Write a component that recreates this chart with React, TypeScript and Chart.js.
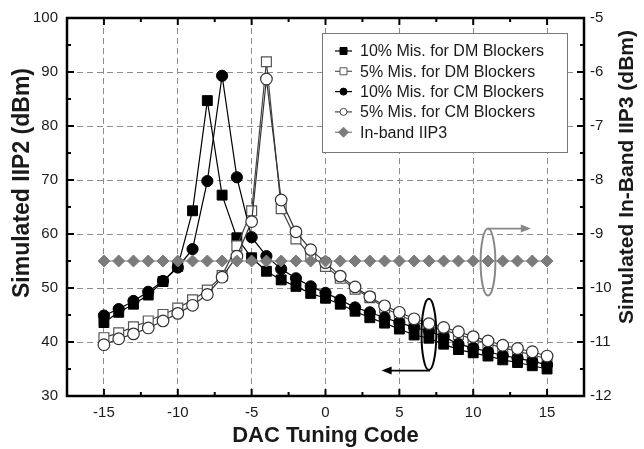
import { useEffect, useRef } from 'react';
import { Chart, registerables } from 'chart.js';

Chart.register(...registerables);

// DAC tuning codes on the x axis
const dacCodes = [-15, -14, -13, -12, -11, -10, -9, -8, -7, -6, -5, -4, -3, -2, -1, 0, 1, 2, 3, 4, 5, 6, 7, 8, 9, 10, 11, 12, 13, 14, 15];

// Simulated IIP2 (dBm), left axis
const iip2Dm10 = [43.6, 45.5, 47.0, 48.7, 51.2, 54.0, 64.3, 84.7, 67.2, 59.3, 55.6, 53.1, 51.5, 50.3, 49.0, 48.1, 47.0, 45.7, 44.5, 43.5, 42.4, 41.3, 40.7, 39.6, 38.6, 38.0, 37.4, 36.7, 36.2, 35.6, 35.0];
const iip2Dm5 = [40.8, 41.7, 42.8, 43.9, 45.1, 46.3, 47.8, 49.6, 52.3, 57.8, 64.3, 91.9, 64.7, 59.1, 56.0, 54.0, 51.8, 49.8, 48.2, 46.3, 45.0, 43.8, 42.9, 42.2, 41.4, 40.5, 39.7, 38.9, 38.3, 37.6, 36.9];
const iip2Cm10 = [44.9, 46.1, 47.6, 49.3, 51.3, 53.8, 57.2, 69.8, 89.3, 70.5, 59.4, 55.9, 53.5, 51.8, 50.3, 49.1, 47.8, 46.4, 45.5, 44.5, 43.6, 42.7, 42.0, 41.0, 39.6, 38.9, 38.2, 37.5, 37.0, 36.4, 35.8];
const iip2Cm5 = [39.5, 40.6, 41.5, 42.6, 43.9, 45.3, 46.8, 48.8, 52.0, 55.9, 62.3, 88.7, 66.3, 60.4, 57.1, 54.7, 52.2, 50.2, 48.4, 46.7, 45.5, 44.3, 43.4, 42.7, 41.9, 41.0, 40.2, 39.4, 38.8, 38.2, 37.4];

// Simulated in-band IIP3 (dBm), right axis
const iip3InBand = [-9.5, -9.5, -9.5, -9.5, -9.5, -9.5, -9.5, -9.5, -9.5, -9.5, -9.5, -9.5, -9.5, -9.5, -9.5, -9.5, -9.5, -9.5, -9.5, -9.5, -9.5, -9.5, -9.5, -9.5, -9.5, -9.5, -9.5, -9.5, -9.5, -9.5, -9.5];

const seriesLabels = [
  '10% Mis. for DM Blockers',
  '5% Mis. for DM Blockers',
  '10% Mis. for CM Blockers',
  '5% Mis. for CM Blockers',
  'In-band IIP3',
];

// Axis ticks
const xMajorTicks = [-15, -10, -5, 0, 5, 10, 15];
const xMinorTicks = [-12.5, -7.5, -2.5, 2.5, 7.5, 12.5];
const iip2MajorTicks = [30, 40, 50, 60, 70, 80, 90, 100];
const iip2MinorTicks = [35, 45, 55, 65, 75, 85, 95];
const iip3MajorTicks = [-12, -11, -10, -9, -8, -7, -6, -5];
const iip3MinorTicks = [-11.5, -10.5, -9.5, -8.5, -7.5, -6.5, -5.5];

const FONT = '"Liberation Sans", Arial, Helvetica, sans-serif';
const GRAY = '#7b7b7b';

type Marker = 'rect' | 'circle' | 'rectRot';
interface LegendSpec { label: string; marker: Marker; fill: string; stroke: string; line: string }

const legendSpecs: LegendSpec[] = [
  { label: seriesLabels[0], marker: 'rect', fill: '#000', stroke: '#000', line: '#000' },
  { label: seriesLabels[1], marker: 'rect', fill: '#fff', stroke: '#555', line: '#555' },
  { label: seriesLabels[2], marker: 'circle', fill: '#000', stroke: '#000', line: '#000' },
  { label: seriesLabels[3], marker: 'circle', fill: '#fff', stroke: '#444', line: '#444' },
  { label: seriesLabels[4], marker: 'rectRot', fill: GRAY, stroke: GRAY, line: GRAY },
];

function drawMarker(ctx: CanvasRenderingContext2D, m: Marker, x: number, y: number, r: number, fill: string, stroke: string) {
  ctx.beginPath();
  if (m === 'rect') ctx.rect(x - r, y - r, 2 * r, 2 * r);
  else if (m === 'circle') ctx.arc(x, y, r, 0, Math.PI * 2);
  else {
    ctx.moveTo(x, y - r - 1);
    ctx.lineTo(x + r + 1, y);
    ctx.lineTo(x, y + r + 1);
    ctx.lineTo(x - r - 1, y);
    ctx.closePath();
  }
  ctx.fillStyle = fill;
  ctx.fill();
  ctx.strokeStyle = stroke;
  ctx.lineWidth = 1;
  ctx.stroke();
}

function arrow(ctx: CanvasRenderingContext2D, x1: number, y1: number, x2: number, y2: number, color: string) {
  const ang = Math.atan2(y2 - y1, x2 - x1);
  const head = 10;
  ctx.strokeStyle = color;
  ctx.fillStyle = color;
  ctx.lineWidth = 1.6;
  ctx.beginPath();
  ctx.moveTo(x1, y1);
  ctx.lineTo(x2 - Math.cos(ang) * head * 0.8, y2 - Math.sin(ang) * head * 0.8);
  ctx.stroke();
  ctx.beginPath();
  ctx.moveTo(x2, y2);
  ctx.lineTo(x2 - head * Math.cos(ang) + 4 * Math.sin(ang), y2 - head * Math.sin(ang) - 4 * Math.cos(ang));
  ctx.lineTo(x2 - head * Math.cos(ang) - 4 * Math.sin(ang), y2 - head * Math.sin(ang) + 4 * Math.cos(ang));
  ctx.closePath();
  ctx.fill();
}

// Frame, inward ticks, axis titles, annotations and the boxed legend
const decorations = {
  id: 'decorations',
  afterDatasetsDraw(chart: any) {
    const { ctx, chartArea: a, scales } = chart;
    const sx = scales.x;
    const sl = scales.y;
    const sr = scales.y2;
    ctx.save();

    // tick marks pointing into the plot
    ctx.strokeStyle = '#000';
    ctx.lineWidth = 2;
    const seg = (x1: number, y1: number, x2: number, y2: number) => {
      ctx.beginPath();
      ctx.moveTo(x1, y1);
      ctx.lineTo(x2, y2);
      ctx.stroke();
    };
    const major = 7;
    const minor = 4;
    xMajorTicks.forEach((v) => { const p = sx.getPixelForValue(v); seg(p, a.bottom, p, a.bottom - major); seg(p, a.top, p, a.top + major); });
    xMinorTicks.forEach((v) => { const p = sx.getPixelForValue(v); seg(p, a.bottom, p, a.bottom - minor); seg(p, a.top, p, a.top + minor); });
    iip2MajorTicks.forEach((v) => { const p = sl.getPixelForValue(v); seg(a.left, p, a.left + major, p); });
    iip2MinorTicks.forEach((v) => { const p = sl.getPixelForValue(v); seg(a.left, p, a.left + minor, p); });
    iip3MajorTicks.forEach((v) => { const p = sr.getPixelForValue(v); seg(a.right, p, a.right - major, p); });
    iip3MinorTicks.forEach((v) => { const p = sr.getPixelForValue(v); seg(a.right, p, a.right - minor, p); });

    // plot frame
    ctx.lineWidth = 2.5;
    ctx.strokeRect(a.left, a.top, a.right - a.left, a.bottom - a.top);

    // ellipse around the IIP2 curves, arrow to the left axis
    {
      const cx = sx.getPixelForValue(7);
      const rx = Math.abs(sx.getPixelForValue(7.5) - cx);
      const top = sl.getPixelForValue(48.0);
      const bot = sl.getPixelForValue(34.8);
      ctx.strokeStyle = '#000';
      ctx.lineWidth = 2;
      ctx.beginPath();
      ctx.ellipse(cx, (top + bot) / 2, rx, (bot - top) / 2, 0, 0, Math.PI * 2);
      ctx.stroke();
      const ay = sl.getPixelForValue(34.7);
      arrow(ctx, cx + 1, ay, sx.getPixelForValue(3.8), ay, '#000');
    }
    // ellipse around the IIP3 line, arrow to the right axis
    {
      const cx = sx.getPixelForValue(11);
      const rx = Math.abs(sx.getPixelForValue(11.5) - cx);
      const top = sr.getPixelForValue(-8.9);
      const bot = sr.getPixelForValue(-10.14);
      ctx.strokeStyle = '#888';
      ctx.lineWidth = 2;
      ctx.beginPath();
      ctx.ellipse(cx, (top + bot) / 2, rx, (bot - top) / 2, 0, 0, Math.PI * 2);
      ctx.stroke();
      arrow(ctx, cx, top, sx.getPixelForValue(13.9), top, '#888');
    }

    // legend box
    const lx = 322;
    const ly = 33;
    const lw = 245;
    const lh = 119;
    ctx.fillStyle = '#fff';
    ctx.fillRect(lx, ly, lw, lh);
    ctx.strokeStyle = '#777';
    ctx.lineWidth = 1;
    ctx.strokeRect(lx + 0.5, ly + 0.5, lw, lh);
    ctx.font = `16px ${FONT}`;
    ctx.textBaseline = 'middle';
    ctx.textAlign = 'left';
    legendSpecs.forEach((s, i) => {
      const y = ly + 18 + i * 20.3;
      ctx.strokeStyle = s.line;
      ctx.lineWidth = 1.2;
      ctx.beginPath();
      ctx.moveTo(lx + 13, y);
      ctx.lineTo(lx + 30, y);
      ctx.stroke();
      drawMarker(ctx, s.marker, lx + 21.5, y, s.marker === 'rectRot' ? 4 : 3.5, s.fill, s.stroke);
      ctx.fillStyle = '#1a1a1a';
      ctx.fillText(s.label, lx + 38, y + 1);
    });

    // axis titles
    ctx.fillStyle = '#1a1a1a';
    ctx.font = `bold 22px ${FONT}`;
    ctx.textAlign = 'center';
    ctx.textBaseline = 'middle';
    ctx.fillText('DAC Tuning Code', (a.left + a.right) / 2, 436);
    const midY = (a.top + a.bottom) / 2;
    ctx.save();
    ctx.translate(23, midY - 24);
    ctx.rotate(-Math.PI / 2);
    ctx.font = `bold 23px ${FONT}`;
    ctx.fillText('Simulated IIP2 (dBm)', 0, 0);
    ctx.restore();
    ctx.save();
    ctx.translate(627, midY - 30);
    ctx.rotate(-Math.PI / 2);
    ctx.font = `bold 21px ${FONT}`;
    ctx.fillText('Simulated In-Band IIP3 (dBm)', 0, 0);
    ctx.restore();

    ctx.restore();
  },
};

function points(ys: number[]) {
  return dacCodes.map((x, i) => ({ x, y: ys[i] }));
}

export default function App() {
  const canvasRef = useRef<HTMLCanvasElement>(null);

  useEffect(() => {
    document.body.style.margin = '0';
    const canvas = canvasRef.current;
    if (!canvas) return;

    const tickFont = { family: FONT, size: 15 };

    const chart = new Chart(canvas, {
      type: 'line',
      data: {
        datasets: [
          {
            label: seriesLabels[4],
            data: points(iip3InBand),
            yAxisID: 'y2',
            borderColor: GRAY,
            borderWidth: 1.2,
            pointStyle: 'rectRot',
            pointRadius: 6,
            pointBackgroundColor: GRAY,
            pointBorderColor: GRAY,
            pointBorderWidth: 1,
            order: 0,
          },
          {
            label: seriesLabels[3],
            data: points(iip2Cm5),
            yAxisID: 'y',
            borderColor: '#333',
            borderWidth: 1.2,
            pointStyle: 'circle',
            pointRadius: 5.8,
            pointBackgroundColor: '#fff',
            pointBorderColor: '#333',
            pointBorderWidth: 1.2,
            order: 1,
          },
          {
            label: seriesLabels[2],
            data: points(iip2Cm10),
            yAxisID: 'y',
            borderColor: '#000',
            borderWidth: 1.2,
            pointStyle: 'circle',
            pointRadius: 5.6,
            pointBackgroundColor: '#000',
            pointBorderColor: '#000',
            pointBorderWidth: 1,
            order: 2,
          },
          {
            label: seriesLabels[1],
            data: points(iip2Dm5),
            yAxisID: 'y',
            borderColor: '#444',
            borderWidth: 1.2,
            pointStyle: 'rect',
            pointRadius: 7,
            pointBackgroundColor: '#fff',
            pointBorderColor: '#555',
            pointBorderWidth: 1.2,
            order: 3,
          },
          {
            label: seriesLabels[0],
            data: points(iip2Dm10),
            yAxisID: 'y',
            borderColor: '#000',
            borderWidth: 1.2,
            pointStyle: 'rect',
            pointRadius: 7,
            pointBackgroundColor: '#000',
            pointBorderColor: '#000',
            pointBorderWidth: 1,
            order: 4,
          },
        ],
      },
      options: {
        responsive: true,
        maintainAspectRatio: false,
        animation: false,
        events: [],
        layout: { padding: { top: 16, left: 0, right: 0, bottom: 0 } },
        plugins: {
          legend: { display: false },
          tooltip: { enabled: false },
        },
        scales: {
          x: {
            type: 'linear',
            min: -17.5,
            max: 17.5,
            afterBuildTicks: (s: any) => { s.ticks = xMajorTicks.map((value) => ({ value })); },
            afterFit: (s: any) => { s.height = 53; },
            ticks: { font: tickFont, color: '#1a1a1a', padding: 8, maxRotation: 0 },
            grid: { color: '#8c8c8c', lineWidth: 1, drawTicks: false },
            border: { display: false, dash: [6, 4] },
          },
          y: {
            type: 'linear',
            position: 'left',
            min: 30,
            max: 100,
            afterBuildTicks: (s: any) => { s.ticks = iip2MajorTicks.map((value) => ({ value })); },
            afterFit: (s: any) => { s.width = 67; },
            ticks: { font: tickFont, color: '#1a1a1a', padding: 9 },
            grid: { color: '#8c8c8c', lineWidth: 1, drawTicks: false },
            border: { display: false, dash: [6, 4] },
          },
          y2: {
            type: 'linear',
            position: 'right',
            min: -12,
            max: -5,
            afterBuildTicks: (s: any) => { s.ticks = iip3MajorTicks.map((value) => ({ value })); },
            afterFit: (s: any) => { s.width = 60; },
            ticks: { font: tickFont, color: '#1a1a1a', padding: 6 },
            grid: { drawOnChartArea: false, drawTicks: false },
            border: { display: false },
          },
        },
      },
      plugins: [decorations],
    } as any);

    return () => chart.destroy();
  }, []);

  return (
    <div style={{ width: 644, height: 449, position: 'relative', background: '#fff' }}>
      <canvas ref={canvasRef} />
    </div>
  );
}
